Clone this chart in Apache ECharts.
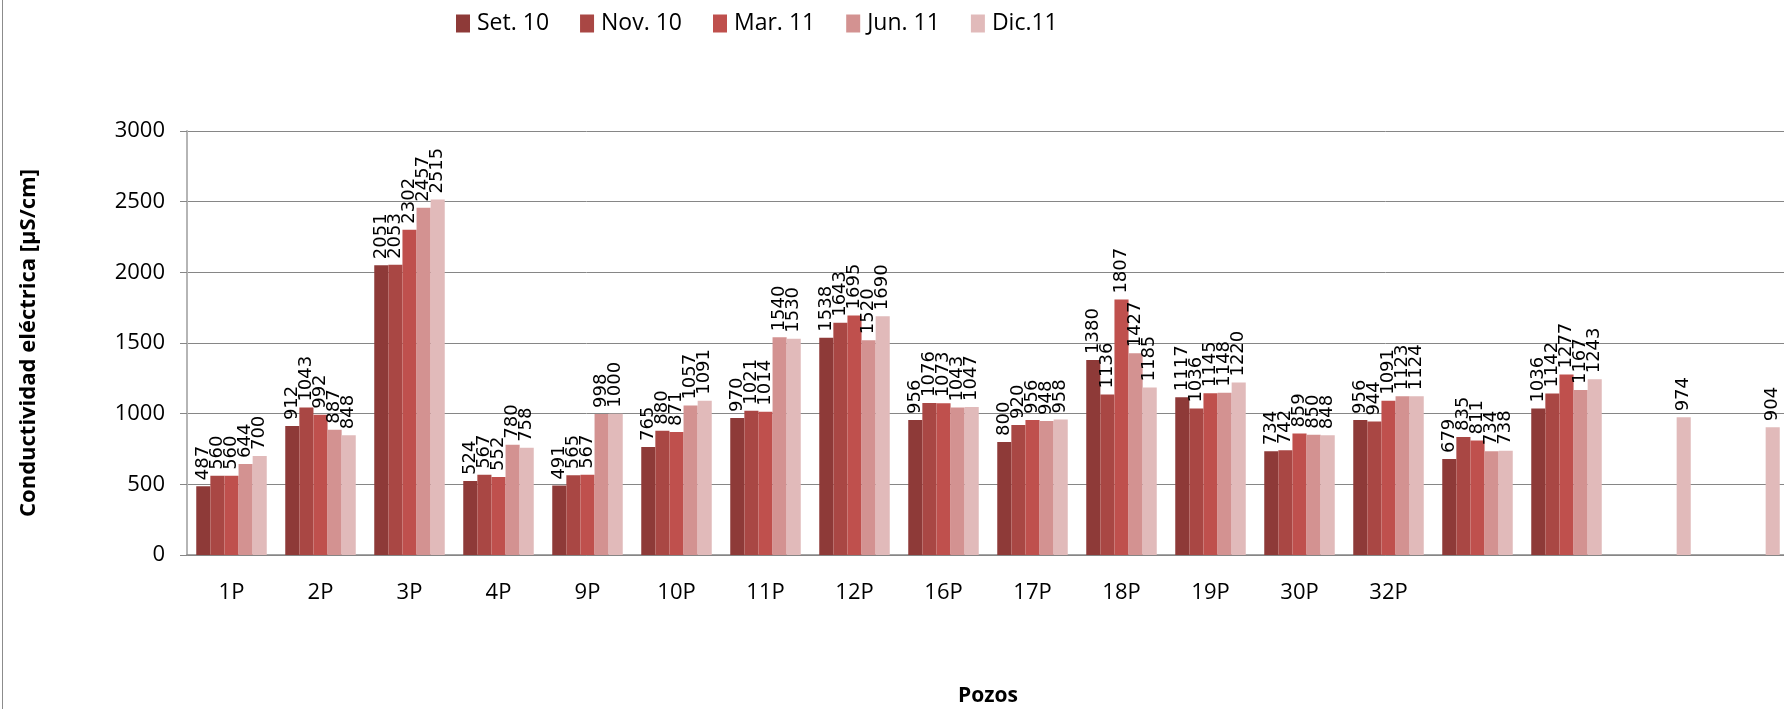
<!DOCTYPE html>
<html>
<head>
<meta charset="utf-8">
<script src="https://cdn.jsdelivr.net/npm/echarts@6/dist/echarts.min.js"></script>
<style>
  html, body { margin: 0; padding: 0; background: #fff; }
  #chart { width: 1784px; height: 709px; }
  #frame { position: absolute; left: 2px; top: 0; width: 1px; height: 709px; background: #8c8c8c; }
</style>
</head>
<body>
<div id="chart"></div>
<div id="frame"></div>
<script>
var pozos = ['1P', '2P', '3P', '4P', '9P', '10P', '11P', '12P', '16P', '17P', '18P', '19P', '30P', '32P', '', '', '', ''];
var setNames = ['Set. 10', 'Nov. 10', 'Mar. 11', 'Jun. 11', 'Dic.11'];
var colores = ['#8e3a38', '#a94744', '#bf504d', '#d39291', '#e1baba'];

var set10 = [487, 912, 2051, 524, 491, 765, 970, 1538, 956, 800, 1380, 1117, 734, 956, 679, 1036, null, null];
var nov10 = [560, 1043, 2053, 567, 565, 880, 1021, 1643, 1076, 920, 1136, 1036, 742, 944, 835, 1142, null, null];
var mar11 = [560, 992, 2302, 552, 567, 871, 1014, 1695, 1073, 956, 1807, 1145, 859, 1091, 811, 1277, null, null];
var jun11 = [644, 887, 2457, 780, 998, 1057, 1540, 1520, 1043, 948, 1427, 1148, 850, 1123, 734, 1167, null, null];
var dic11 = [700, 848, 2515, 758, 1000, 1091, 1530, 1690, 1047, 958, 1185, 1220, 848, 1124, 738, 1243, 974, 904];

var valores = [set10, nov10, mar11, jun11, dic11];

var chart = echarts.init(document.getElementById('chart'));

var series = [];
valores.forEach(function (d, i) {
    series.push({
        name: setNames[i],
        type: 'bar',
        data: d,
        barWidth: 14.1,
        barGap: '0%',
        itemStyle: { color: colores[i] },
        label: {
            show: true,
            position: 'top',
            rotate: 90,
            align: 'left',
            verticalAlign: 'middle',
            distance: 6,
            fontFamily: 'DejaVu Sans',
            fontSize: 18,
            color: '#000'
        }
    });
});

var option = {
    animation: false,
    textStyle: { fontFamily: 'Open Sans' },
    legend: {
        data: setNames,
        left: 451,
        top: 7,
        icon: 'rect',
        itemWidth: 14,
        itemHeight: 18,
        itemGap: 31,
        textStyle: { fontSize: 23, color: '#000', fontFamily: 'Open Sans', padding: [0, 0, 0, 2] }
    },
    grid: {
        left: 187,
        top: 131,
        width: 1602,
        height: 424,
        outerBoundsMode: 'none',
        containLabel: false
    },
    xAxis: {
        type: 'category',
        data: pozos,
        name: 'Pozos',
        nameLocation: 'middle',
        nameGap: 131,
        nameTextStyle: { fontSize: 21, fontWeight: 'bold', color: '#000' },
        axisLine: { lineStyle: { color: '#868686', width: 1.5 } },
        axisTick: { show: false },
        axisLabel: { fontSize: 22, color: '#000', margin: 27, interval: 0 }
    },
    yAxis: {
        type: 'value',
        min: 0,
        max: 3000,
        interval: 500,
        name: 'Conductividad eléctrica [µS/cm]',
        nameLocation: 'middle',
        nameGap: 147,
        nameTextStyle: { fontSize: 22, fontWeight: 'bold', color: '#000' },
        axisLine: { show: true, lineStyle: { color: '#b5b5b5', width: 2 } },
        axisTick: { show: true, length: 7, lineStyle: { color: '#868686' } },
        axisLabel: {
            fontSize: 22,
            color: '#000',
            margin: 22,
            formatter: function (v) { return String(v); }
        },
        splitLine: { lineStyle: { color: '#868686', width: 1 } }
    },
    series: series
};

chart.setOption(option);
</script>
</body>
</html>
